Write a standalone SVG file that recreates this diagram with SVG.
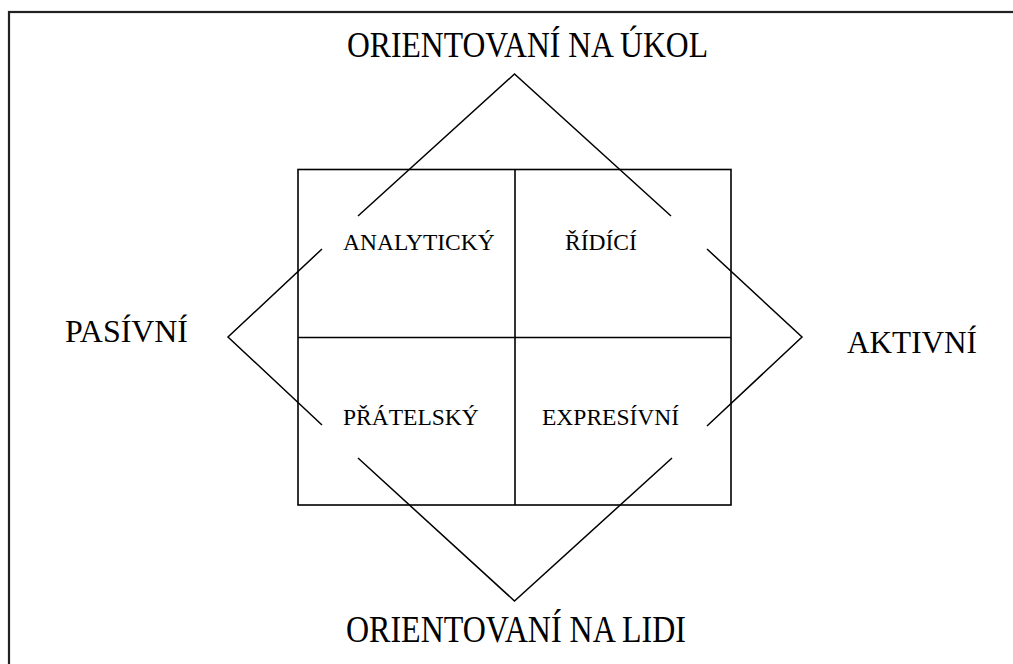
<svg xmlns="http://www.w3.org/2000/svg" width="1013" height="664" viewBox="0 0 1013 664">
<style>
.frame{fill:none;stroke:#222;stroke-width:2.2}
.box{fill:none;stroke:#000;stroke-width:1.6}
.ln{fill:none;stroke:#000;stroke-width:1.5}
.big{font-family:"Liberation Serif","Times New Roman",serif;fill:#000}
.cell{font-family:"Liberation Serif","Times New Roman",serif;font-size:23.5px;fill:#000}
</style>
<rect width="1013" height="664" fill="#fff"/>
<rect class="frame" x="9" y="12" width="1012" height="662"/>
<g id="grid">
<rect class="box" x="298" y="169.5" width="433" height="335.5"/>
<line class="box" x1="515" y1="169.5" x2="515" y2="505"/>
<line class="box" x1="298" y1="337.5" x2="731" y2="337.5"/>
</g>
<g id="connectors">
<polyline class="ln" points="358,216 514.5,74 671,216"/>
<polyline class="ln" points="322,249 228,337 322,425"/>
<polyline class="ln" points="707,249 802,337 707,426"/>
<polyline class="ln" points="358,458 514.5,601 672,458"/>
</g>
<g id="analyticky"><text class="cell" x="343" y="250">ANALYTICKÝ</text></g>
<g id="ridici"><text class="cell" x="565" y="250">ŘÍDÍCÍ</text></g>
<g id="pratelsky"><text class="cell" x="343" y="425">PŘÁTELSKÝ</text></g>
<g id="expresivni"><text class="cell" x="542" y="425">EXPRESÍVNÍ</text></g>
<g id="ukol"><text class="big" x="347" y="57" font-size="36" textLength="361" lengthAdjust="spacingAndGlyphs">ORIENTOVANÍ NA ÚKOL</text></g>
<g id="lidi"><text class="big" x="346" y="642" font-size="37" textLength="340" lengthAdjust="spacingAndGlyphs">ORIENTOVANÍ NA LIDI</text></g>
<g id="pasivni"><text class="big" x="65" y="342" font-size="32" textLength="123" lengthAdjust="spacingAndGlyphs">PASÍVNÍ</text></g>
<g id="aktivni"><text class="big" x="847" y="353" font-size="31" textLength="130" lengthAdjust="spacingAndGlyphs">AKTIVNÍ</text></g>
</svg>
